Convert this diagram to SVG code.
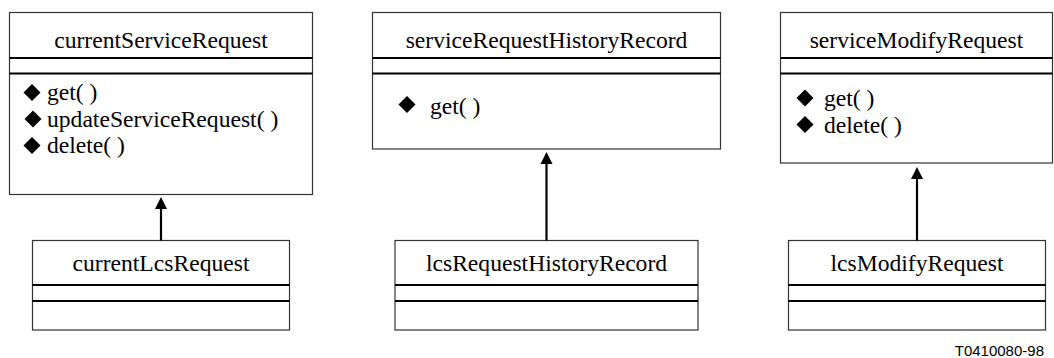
<svg xmlns="http://www.w3.org/2000/svg" width="1054" height="358" viewBox="0 0 1054 358">
<style>
.box{fill:#fff;stroke:#333;stroke-width:1.2}
.sep{stroke:#000;stroke-width:1.8}
.t{font-family:"Liberation Serif","Times New Roman",serif;font-size:23.6px;fill:#000}
.c{text-anchor:middle}
.d{fill:#000}
.conn{stroke:#000;stroke-width:2.2;fill:none}
.ah{fill:#000}
.lbl{font-family:"Liberation Sans",Arial,sans-serif;font-size:15px;fill:#000;text-anchor:end}
</style>
<rect width="1054" height="358" fill="#fff"/>
<g id="currentServiceRequest">
<rect class="box" x="9.5" y="12.5" width="303" height="182"/>
<line class="sep" x1="9.5" y1="58" x2="312.5" y2="58"/>
<line class="sep" x1="9.5" y1="73.5" x2="312.5" y2="73.5"/>
<text class="t c" x="161" y="48">currentServiceRequest</text>
<polygon class="d" points="32,84 40.5,92.5 32,101 23.5,92.5"/>
<text class="t" x="47" y="100">get( )</text>
<polygon class="d" points="33,110.5 41.5,119 33,127.5 24.5,119"/>
<text class="t" x="47" y="126.5">updateServiceRequest( )</text>
<polygon class="d" points="32,137 40.5,145.5 32,154 23.5,145.5"/>
<text class="t" x="47" y="153">delete( )</text>
</g>
<g id="serviceRequestHistoryRecord">
<rect class="box" x="372.5" y="12.5" width="348" height="136.5"/>
<line class="sep" x1="372.5" y1="58" x2="720.5" y2="58"/>
<line class="sep" x1="372.5" y1="73.5" x2="720.5" y2="73.5"/>
<text class="t c" x="546.5" y="48">serviceRequestHistoryRecord</text>
<polygon class="d" points="407,96 415.5,104.5 407,113 398.5,104.5"/>
<text class="t" x="430" y="113.5">get( )</text>
</g>
<g id="serviceModifyRequest">
<rect class="box" x="780.5" y="12.5" width="272" height="150.5"/>
<line class="sep" x1="780.5" y1="58" x2="1052.5" y2="58"/>
<line class="sep" x1="780.5" y1="73.5" x2="1052.5" y2="73.5"/>
<text class="t c" x="916.5" y="48">serviceModifyRequest</text>
<polygon class="d" points="805,89.5 813.5,98 805,106.5 796.5,98"/>
<text class="t" x="824" y="106">get( )</text>
<polygon class="d" points="805,116 813.5,124.5 805,133 796.5,124.5"/>
<text class="t" x="824" y="132.5">delete( )</text>
</g>
<g id="currentLcsRequest">
<rect class="box" x="32.5" y="240.5" width="257" height="89.5"/>
<line class="sep" x1="32.5" y1="285" x2="289.5" y2="285"/>
<line class="sep" x1="32.5" y1="301" x2="289.5" y2="301"/>
<text class="t c" x="161" y="271">currentLcsRequest</text>
</g>
<g id="lcsRequestHistoryRecord">
<rect class="box" x="395" y="240.5" width="303" height="89.5"/>
<line class="sep" x1="395" y1="285" x2="698" y2="285"/>
<line class="sep" x1="395" y1="301" x2="698" y2="301"/>
<text class="t c" x="546.5" y="271">lcsRequestHistoryRecord</text>
</g>
<g id="lcsModifyRequest">
<rect class="box" x="788.5" y="240.5" width="257" height="89.5"/>
<line class="sep" x1="788.5" y1="285" x2="1045.5" y2="285"/>
<line class="sep" x1="788.5" y1="301" x2="1045.5" y2="301"/>
<text class="t c" x="917" y="271">lcsModifyRequest</text>
</g>
<g id="connectors">
<line class="conn" x1="161" y1="240.5" x2="161" y2="207"/>
<polygon class="ah" points="161,197 167,209 155,209"/>
<line class="conn" x1="546.5" y1="240.5" x2="546.5" y2="162"/>
<polygon class="ah" points="546.5,152 552.5,164 540.5,164"/>
<line class="conn" x1="917" y1="240.5" x2="917" y2="177"/>
<polygon class="ah" points="917,167 923,179 911,179"/>
</g>
<text class="lbl" x="1044" y="356">T0410080-98</text>
</svg>
